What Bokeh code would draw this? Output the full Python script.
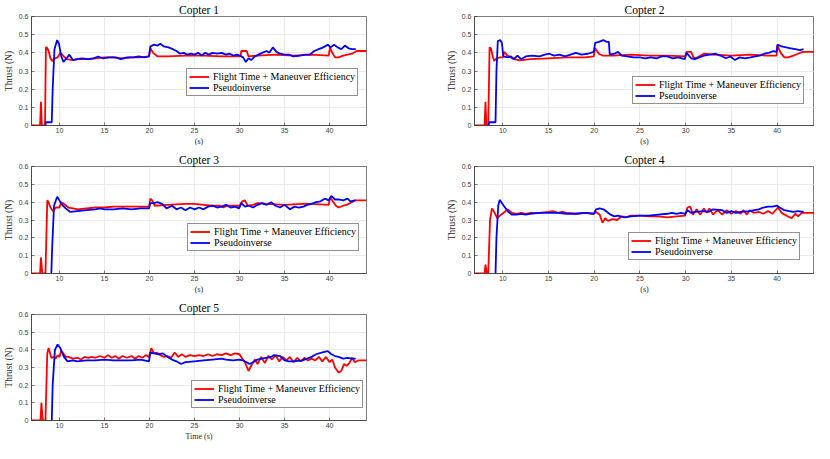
from bokeh.plotting import figure
from bokeh.layouts import column, row
from bokeh.models import FixedTicker, CustomJSTickFormatter, Range1d, Legend, LegendItem, Spacer
from bokeh.embed import file_html
from bokeh.resources import INLINE

# ---------------- data ----------------
X_RANGE = (6.9, 44.1)
Y_RANGE = (0.0, 0.6)
X_TICKS = [10, 15, 20, 25, 30, 35, 40]
Y_TICKS = [0, 0.1, 0.2, 0.3, 0.4, 0.5, 0.6]
TITLES = ["Copter 1", "Copter 2", "Copter 3", "Copter 4", "Copter 5"]
SERIES = ["Flight Time + Maneuver Efficiency", "Pseudoinverse"]
X_LABELS = ["(s)", "(s)", "(s)", "(s)", "Time (s)"]
Y_LABEL = "Thrust (N)"

C1_RED = [(6.9, 0), (7.85, 0), (7.95, 0.13), (8.05, 0), (8.4, 0), (8.5, 0.43), (8.6, 0.43), (8.8, 0.41),
          (9.0, 0.37), (9.2, 0.355), (9.5, 0.37), (9.8, 0.375), (10.1, 0.40), (10.4, 0.385), (10.8, 0.365),
          (11.5, 0.36), (12, 0.365), (13, 0.365), (14, 0.37), (15, 0.375), (16, 0.375), (17, 0.37),
          (18, 0.375), (19, 0.375), (19.95, 0.38), (20.1, 0.425), (20.4, 0.40), (20.9, 0.38), (22, 0.38),
          (24, 0.385), (26, 0.385), (28, 0.38), (30.1, 0.38), (30.2, 0.41), (30.8, 0.41), (31.0, 0.38),
          (32, 0.385), (34, 0.39), (36, 0.385), (38, 0.39), (39.9, 0.385), (40.05, 0.43), (40.2, 0.41),
          (40.6, 0.375), (41.0, 0.375), (41.5, 0.385), (42.0, 0.39), (42.5, 0.395), (43.0, 0.41), (44.1, 0.41)]
C1_BLUE = [(8.45, 0), (8.5, 0.018), (9.15, 0.018), (9.25, 0.2), (9.45, 0.42), (9.75, 0.47), (9.95, 0.45),
           (10.2, 0.38), (10.45, 0.35), (10.8, 0.37), (11.1, 0.39), (11.5, 0.36), (12.0, 0.365), (12.5, 0.37),
           (13.2, 0.365), (13.8, 0.37), (14.3, 0.38), (14.8, 0.37), (15.5, 0.375), (16.2, 0.375), (16.8, 0.365),
           (17.5, 0.375), (18.2, 0.375), (18.8, 0.38), (19.4, 0.375), (19.95, 0.38), (20.1, 0.435), (20.5, 0.445),
           (20.9, 0.44), (21.2, 0.45), (21.6, 0.435), (22.1, 0.43), (22.6, 0.42), (23.0, 0.41), (23.4, 0.395),
           (23.8, 0.40), (24.2, 0.39), (24.6, 0.395), (25.0, 0.39), (25.4, 0.40), (25.8, 0.385), (26.2, 0.40),
           (26.6, 0.39), (27.0, 0.40), (27.5, 0.395), (28.0, 0.40), (28.5, 0.39), (28.9, 0.395), (29.3, 0.385),
           (29.7, 0.39), (30.0, 0.385), (30.4, 0.375), (30.7, 0.35), (31.0, 0.37), (31.3, 0.36), (31.7, 0.38),
           (32.1, 0.39), (32.5, 0.40), (33.0, 0.41), (33.3, 0.40), (33.7, 0.43), (34.1, 0.405), (34.5, 0.395),
           (35.0, 0.39), (35.5, 0.39), (36.0, 0.38), (36.7, 0.385), (37.3, 0.39), (37.8, 0.39), (38.3, 0.41),
           (38.8, 0.42), (39.3, 0.43), (39.8, 0.445), (40.1, 0.43), (40.5, 0.445), (40.9, 0.43), (41.3, 0.42),
           (41.7, 0.44), (42.1, 0.425), (42.5, 0.42), (42.9, 0.42)]

C2_RED = [(6.9, 0), (8.0, 0), (8.1, 0.13), (8.2, 0), (8.4, 0), (8.55, 0.43), (8.7, 0.425), (8.9, 0.38),
          (9.05, 0.355), (9.3, 0.37), (9.7, 0.375), (10.0, 0.375), (10.15, 0.405), (10.5, 0.385), (11.0, 0.37),
          (11.8, 0.358), (13, 0.365), (15, 0.37), (17, 0.375), (19, 0.375), (19.95, 0.38), (20.1, 0.425),
          (20.5, 0.395), (20.9, 0.385), (22, 0.385), (24, 0.39), (26, 0.385), (28, 0.385), (29.95, 0.38),
          (30.1, 0.405), (30.6, 0.405), (30.9, 0.37), (31.3, 0.375), (32.0, 0.395), (33, 0.39), (35, 0.385),
          (37, 0.39), (39, 0.385), (39.95, 0.385), (40.05, 0.44), (40.4, 0.40), (40.8, 0.375), (41.2, 0.375),
          (41.8, 0.385), (42.3, 0.395), (42.8, 0.405), (44.1, 0.405)]
C2_BLUE = [(8.45, 0), (8.5, 0.018), (9.2, 0.018), (9.3, 0.3), (9.45, 0.465), (9.7, 0.47), (9.9, 0.455),
           (10.05, 0.38), (10.5, 0.375), (10.9, 0.38), (11.2, 0.365), (11.6, 0.385), (12.0, 0.365), (12.5, 0.38),
           (13.2, 0.385), (14.0, 0.38), (14.6, 0.39), (15.1, 0.395), (15.6, 0.385), (16.2, 0.39), (16.8, 0.38),
           (17.4, 0.39), (18.0, 0.40), (18.6, 0.39), (19.3, 0.395), (19.95, 0.405), (20.1, 0.455), (20.5, 0.46),
           (21.0, 0.47), (21.4, 0.46), (21.6, 0.46), (21.7, 0.39), (22.2, 0.395), (22.6, 0.405), (23.0, 0.385),
           (23.6, 0.38), (24.3, 0.375), (25.0, 0.375), (25.6, 0.37), (26.2, 0.375), (26.8, 0.37), (27.4, 0.38),
           (28.0, 0.38), (28.6, 0.37), (29.2, 0.375), (29.9, 0.365), (30.1, 0.40), (30.6, 0.37), (31.0, 0.365),
           (31.5, 0.375), (32.0, 0.385), (32.6, 0.39), (33.3, 0.395), (33.8, 0.385), (34.4, 0.37), (34.9, 0.38),
           (35.4, 0.36), (35.9, 0.375), (36.5, 0.37), (37.1, 0.375), (37.6, 0.38), (38.1, 0.385), (38.6, 0.395),
           (39.1, 0.40), (39.6, 0.41), (39.95, 0.405), (40.05, 0.445), (40.5, 0.435), (41.0, 0.43), (41.5, 0.425),
           (42.0, 0.42), (42.5, 0.415), (42.9, 0.42)]

C3_RED = [(6.9, 0), (7.85, 0), (7.95, 0.09), (8.1, 0), (8.45, 0), (8.65, 0.41), (8.8, 0.40), (9.0, 0.37),
          (9.3, 0.35), (9.6, 0.37), (10.0, 0.37), (10.2, 0.40), (10.5, 0.39), (11.0, 0.37), (11.5, 0.365),
          (12, 0.36), (13, 0.365), (14, 0.37), (15, 0.37), (16, 0.375), (17, 0.375), (18, 0.375),
          (19.95, 0.375), (20.1, 0.42), (20.3, 0.41), (20.6, 0.38), (22, 0.385), (24, 0.39), (25, 0.39),
          (26, 0.385), (27, 0.38), (27.8, 0.38), (28.2, 0.37), (28.6, 0.38), (30.0, 0.38), (30.3, 0.405),
          (30.6, 0.41), (30.9, 0.38), (31.5, 0.385), (32, 0.395), (33, 0.39), (35, 0.385), (37, 0.39),
          (38, 0.39), (39.9, 0.385), (40.05, 0.425), (40.3, 0.41), (40.7, 0.38), (41.0, 0.37), (41.5, 0.38),
          (41.9, 0.385), (42.3, 0.395), (42.8, 0.41), (44.1, 0.41)]
C3_BLUE = [(9.1, 0), (9.2, 0.15), (9.4, 0.38), (9.75, 0.43), (10.0, 0.41), (10.3, 0.385), (10.7, 0.365),
           (11.2, 0.345), (12, 0.35), (13, 0.355), (14, 0.36), (14.5, 0.365), (15, 0.36), (16, 0.36), (17, 0.365),
           (18, 0.36), (19, 0.365), (19.95, 0.365), (20.1, 0.395), (20.5, 0.395), (20.9, 0.40), (21.4, 0.39),
           (21.9, 0.365), (22.5, 0.38), (23.0, 0.36), (23.5, 0.37), (24.0, 0.355), (24.5, 0.37), (25.0, 0.36),
           (25.5, 0.37), (26.0, 0.36), (26.5, 0.375), (27.0, 0.38), (27.5, 0.37), (28.0, 0.375), (28.5, 0.385),
           (29.0, 0.37), (29.5, 0.375), (29.95, 0.365), (30.2, 0.395), (30.6, 0.375), (31.0, 0.38), (31.5, 0.37),
           (32.0, 0.385), (32.5, 0.395), (33.0, 0.385), (33.5, 0.40), (34.0, 0.38), (34.5, 0.37), (35.0, 0.385),
           (35.6, 0.36), (36.1, 0.375), (36.6, 0.37), (37.1, 0.375), (37.5, 0.385), (38.0, 0.39), (38.5, 0.40),
           (39.0, 0.405), (39.5, 0.42), (39.9, 0.41), (40.2, 0.435), (40.6, 0.415), (41.0, 0.415), (41.5, 0.41),
           (42.0, 0.42), (42.3, 0.405), (42.9, 0.41)]

C4_RED = [(6.9, 0), (8.0, 0), (8.1, 0.05), (8.25, 0), (8.4, 0), (8.6, 0.30), (8.8, 0.365), (9.0, 0.35),
          (9.4, 0.31), (9.8, 0.33), (10.2, 0.345), (10.5, 0.36), (11.0, 0.34), (11.5, 0.335), (12.0, 0.34),
          (12.5, 0.335), (13.0, 0.34), (14.0, 0.34), (15.0, 0.345), (15.5, 0.35), (16.0, 0.34), (16.5, 0.345),
          (17.0, 0.34), (18.0, 0.335), (19.0, 0.34), (19.95, 0.335), (20.2, 0.345), (20.6, 0.33), (20.9, 0.285),
          (21.2, 0.31), (21.5, 0.295), (22.0, 0.305), (22.5, 0.30), (23.0, 0.32), (23.5, 0.315), (24.0, 0.325),
          (25.0, 0.325), (26.0, 0.32), (27.0, 0.32), (28.0, 0.315), (29.0, 0.32), (29.95, 0.325), (30.2, 0.37),
          (30.5, 0.375), (30.8, 0.33), (31.2, 0.36), (31.6, 0.33), (32.0, 0.365), (32.3, 0.34), (32.6, 0.365),
          (33.0, 0.33), (33.5, 0.355), (34.0, 0.33), (34.5, 0.355), (35.0, 0.335), (35.5, 0.35), (36.0, 0.335),
          (36.3, 0.355), (36.7, 0.33), (37.0, 0.355), (37.5, 0.34), (38.0, 0.345), (38.5, 0.335), (39.0, 0.35),
          (39.5, 0.335), (40.1, 0.37), (40.5, 0.34), (41.2, 0.32), (41.6, 0.31), (42.0, 0.335), (42.3, 0.32),
          (42.7, 0.34), (44.1, 0.34)]
C4_BLUE = [(9.2, 0), (9.3, 0.2), (9.5, 0.38), (9.65, 0.413), (10.1, 0.38), (10.6, 0.345), (11.0, 0.33),
           (11.5, 0.33), (12.0, 0.335), (12.5, 0.33), (13.0, 0.335), (14.0, 0.34), (15.0, 0.34), (16.0, 0.34),
           (17.0, 0.335), (18.0, 0.335), (19.0, 0.34), (19.95, 0.335), (20.2, 0.36), (20.6, 0.365), (21.0, 0.36),
           (21.4, 0.345), (21.8, 0.33), (22.2, 0.32), (22.6, 0.325), (23.3, 0.315), (24.0, 0.32), (25.0, 0.325),
           (26.0, 0.325), (27.0, 0.33), (28.0, 0.335), (28.5, 0.34), (29.0, 0.335), (29.5, 0.34), (29.95, 0.335),
           (30.2, 0.355), (30.6, 0.34), (31.0, 0.345), (32.0, 0.35), (32.5, 0.345), (33.0, 0.36), (34.0, 0.355),
           (34.5, 0.34), (35.0, 0.35), (35.5, 0.34), (36.0, 0.345), (37.0, 0.35), (37.5, 0.355), (38.0, 0.36),
           (38.5, 0.37), (39.0, 0.375), (39.5, 0.375), (40.0, 0.38), (40.3, 0.37), (40.8, 0.355), (41.3, 0.35),
           (41.8, 0.345), (42.3, 0.35), (42.9, 0.345)]

C5_RED = [(6.9, 0), (7.9, 0), (8.0, 0.10), (8.15, 0), (8.45, 0), (8.65, 0.38), (8.8, 0.41), (9.1, 0.355),
          (9.4, 0.36), (9.6, 0.35), (9.8, 0.37), (10.0, 0.36), (10.2, 0.395), (10.7, 0.36), (11.0, 0.36),
          (11.5, 0.35), (12.0, 0.355), (12.4, 0.345), (12.8, 0.36), (13.2, 0.355), (13.6, 0.36), (14.0, 0.355),
          (14.5, 0.365), (15.0, 0.355), (15.4, 0.37), (15.8, 0.355), (16.2, 0.365), (16.6, 0.35), (17.0, 0.365),
          (17.5, 0.355), (18.0, 0.365), (18.4, 0.35), (18.8, 0.365), (19.2, 0.355), (19.6, 0.37), (19.95, 0.36),
          (20.2, 0.41), (20.5, 0.38), (20.8, 0.385), (21.2, 0.37), (21.6, 0.36), (22.0, 0.365), (22.4, 0.355),
          (22.8, 0.385), (23.2, 0.36), (23.6, 0.375), (24.0, 0.36), (24.5, 0.37), (25.0, 0.365), (25.5, 0.37),
          (26.0, 0.365), (26.5, 0.375), (27.0, 0.365), (27.5, 0.375), (28.0, 0.37), (28.5, 0.38), (29.0, 0.37),
          (29.5, 0.38), (30.0, 0.375), (30.3, 0.35), (30.6, 0.33), (31.0, 0.28), (31.4, 0.32), (31.7, 0.345),
          (32.0, 0.32), (32.4, 0.36), (32.8, 0.325), (33.2, 0.365), (33.6, 0.345), (34.0, 0.37), (34.4, 0.335),
          (34.8, 0.36), (35.2, 0.34), (35.6, 0.36), (36.0, 0.33), (36.4, 0.355), (36.8, 0.335), (37.2, 0.355),
          (37.6, 0.34), (38.0, 0.35), (38.4, 0.34), (38.8, 0.36), (39.2, 0.335), (39.6, 0.36), (40.0, 0.33),
          (40.3, 0.345), (40.6, 0.30), (41.0, 0.272), (41.3, 0.28), (41.6, 0.32), (41.9, 0.31), (42.2, 0.325),
          (42.5, 0.355), (42.8, 0.33), (43.2, 0.34), (44.1, 0.34)]
C5_BLUE = [(9.15, 0), (9.25, 0.2), (9.5, 0.40), (9.8, 0.43), (10.1, 0.41), (10.5, 0.36), (10.9, 0.335),
           (11.5, 0.34), (12.0, 0.335), (13.0, 0.34), (14.0, 0.34), (15.0, 0.345), (16.0, 0.34), (17.0, 0.34),
           (18.0, 0.34), (19.0, 0.345), (19.95, 0.335), (20.1, 0.385), (20.5, 0.38), (21.0, 0.375), (21.5, 0.38),
           (22.0, 0.36), (22.5, 0.345), (23.0, 0.335), (23.5, 0.32), (24.0, 0.33), (25.0, 0.335), (26.0, 0.34),
           (27.0, 0.345), (28.0, 0.35), (28.5, 0.345), (29.3, 0.34), (29.9, 0.345), (30.4, 0.34), (30.8, 0.33),
           (31.1, 0.32), (31.5, 0.33), (32.0, 0.345), (32.5, 0.35), (33.5, 0.36), (33.8, 0.37), (34.5, 0.365),
           (35.0, 0.34), (35.5, 0.335), (36.0, 0.335), (37.0, 0.34), (37.5, 0.35), (38.0, 0.36), (38.5, 0.375),
           (39.2, 0.385), (39.8, 0.393), (40.2, 0.375), (40.6, 0.365), (41.0, 0.36), (41.5, 0.35), (42.0, 0.355),
           (42.5, 0.35), (42.9, 0.35)]

DATA = [(C1_RED, C1_BLUE), (C2_RED, C2_BLUE), (C3_RED, C3_BLUE), (C4_RED, C4_BLUE), (C5_RED, C5_BLUE)]

# ---------------- layout / style ----------------
COLORS = ["#ff0000", "#0000ff"]
FRAME = "#262626"
SERIF = "Times New Roman"
COL_W = 407
ROW_H = [148, 148, 147]
BORDER_TOP = [15, 18, 18]
BORDER_BOTTOM = [22, 21, 19]
LEFT_COL = dict(min_border_left=26, min_border_right=41)
RIGHT_COL = dict(min_border_left=67, min_border_right=0)
LEGEND_POS = [(155, 29), (158, 21), (156, 22), (154, 13), (160, 12)]

y_fmt = CustomJSTickFormatter(code="return tick === 0 ? '0' : tick.toFixed(1);")


def make_panel(i, r, side):
    borders = LEFT_COL if side == 0 else RIGHT_COL
    p = figure(width=COL_W, height=ROW_H[r], output_backend="svg", toolbar_location=None,
               x_range=Range1d(*X_RANGE), y_range=Range1d(*Y_RANGE),
               min_border_top=BORDER_TOP[r], min_border_bottom=BORDER_BOTTOM[r],
               x_axis_label=X_LABELS[i], y_axis_label=Y_LABEL, **borders)
    p.title.text = TITLES[i]
    p.title.align = "center"
    p.title.text_font = SERIF
    p.title.text_font_size = "11.5px"
    p.title.text_font_style = "normal"
    p.title.text_color = "#000000"
    p.title.standoff = 2

    p.xaxis.ticker = FixedTicker(ticks=X_TICKS)
    p.yaxis.ticker = FixedTicker(ticks=Y_TICKS)
    p.xgrid.ticker = FixedTicker(ticks=X_TICKS)
    p.ygrid.ticker = FixedTicker(ticks=Y_TICKS)
    p.yaxis.formatter = y_fmt
    for ax in (p.xaxis[0], p.yaxis[0]):
        ax.major_label_text_font = "Liberation Sans"
        ax.major_label_text_font_size = "7px"
        ax.major_label_text_color = "#404040"
        ax.axis_label_text_font = SERIF
        ax.axis_label_text_font_style = "normal"
        ax.axis_label_text_color = "#262626"
        ax.axis_line_color = FRAME
        ax.axis_line_width = 0.6
        ax.major_tick_line_color = FRAME
        ax.major_tick_line_width = 0.6
        ax.major_tick_in = 3
        ax.major_tick_out = 0
        ax.minor_tick_line_color = None
        ax.major_label_standoff = 3
        ax.axis_label_standoff = 2
    p.xaxis.major_label_standoff = 2
    p.xaxis.axis_label_standoff = 1
    p.xaxis.axis_label_text_font_size = "8px"
    p.yaxis.axis_label_text_font_size = "9.5px"
    p.grid.grid_line_color = "#e3e3e3"
    p.grid.grid_line_width = 0.7
    p.outline_line_color = FRAME
    p.outline_line_width = 0.6
    p.outline_line_alpha = 1.0

    red, blue = DATA[i]
    r1 = p.line([a for a, b in red], [b for a, b in red], line_color=COLORS[0], line_width=1.8)
    r2 = p.line([a for a, b in blue], [b for a, b in blue], line_color=COLORS[1], line_width=1.8)
    leg = Legend(items=[LegendItem(label=SERIES[0], renderers=[r1]),
                        LegendItem(label=SERIES[1], renderers=[r2])],
                 location=LEGEND_POS[i])
    leg.label_text_font = SERIF
    leg.label_text_font_style = "normal"
    leg.label_text_font_size = "10px"
    leg.label_text_color = "#000000"
    leg.glyph_width = 20
    leg.glyph_height = 11
    leg.label_height = 11
    leg.label_standoff = 4
    leg.padding = 2
    leg.spacing = 0
    leg.margin = 0
    leg.border_line_color = FRAME
    leg.border_line_width = 0.6
    leg.background_fill_color = "white"
    leg.background_fill_alpha = 1.0
    p.add_layout(leg)
    return p


p1 = make_panel(0, 0, 0)
p2 = make_panel(1, 0, 1)
p3 = make_panel(2, 1, 0)
p4 = make_panel(3, 1, 1)
p5 = make_panel(4, 2, 0)

layout = column(row(p1, p2), row(p3, p4), row(p5, Spacer(width=COL_W, height=ROW_H[2])))
open("out.html", "w").write(file_html(layout, INLINE))
